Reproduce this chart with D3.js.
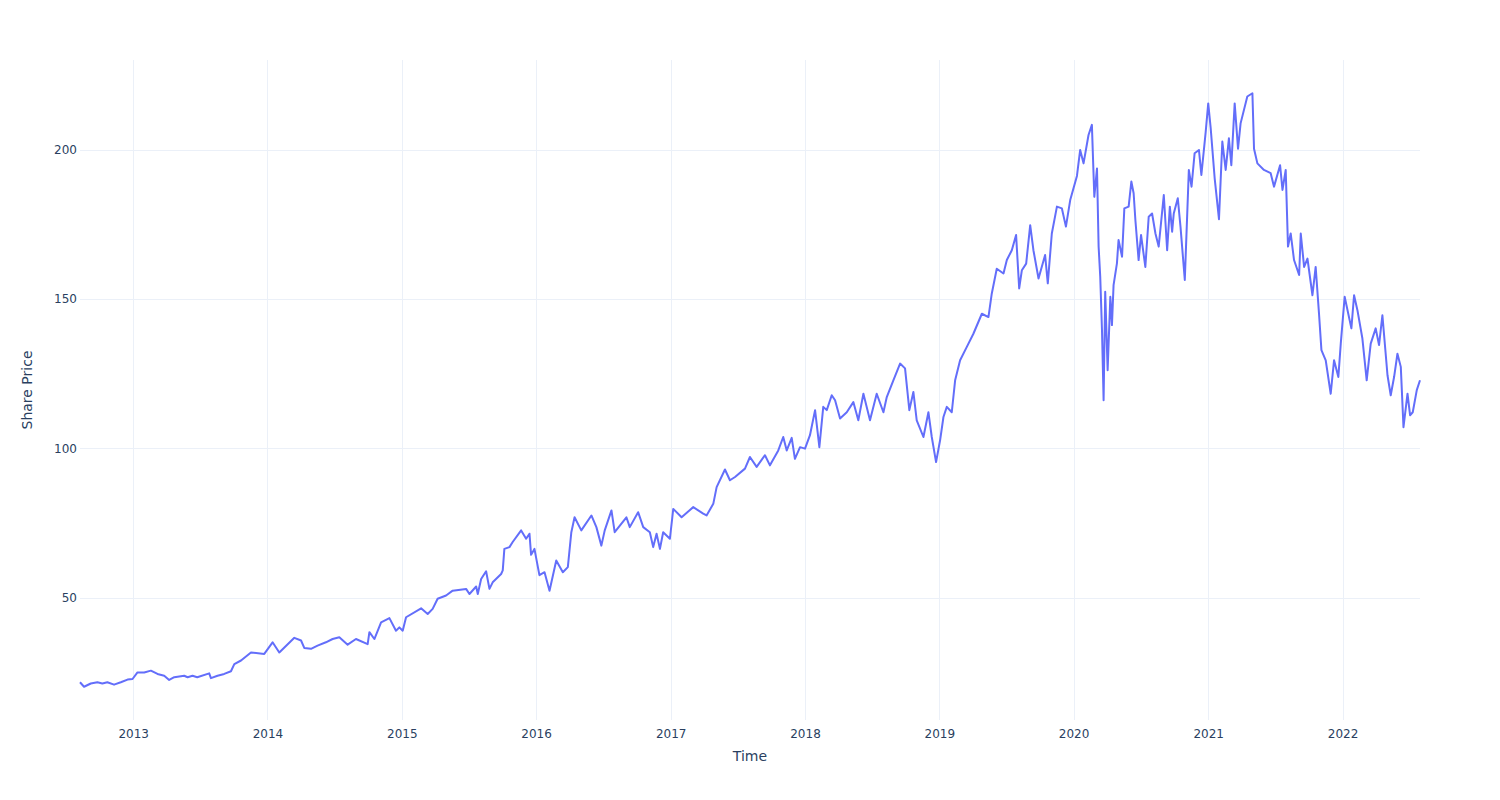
<!DOCTYPE html>
<html lang="en">
<head>
  <meta charset="UTF-8">
  <title>Share Price</title>
  <style>
    body { margin: 0; background: #fff; font-family: "DejaVu Sans", verdana, arial, sans-serif; }
    .grid line { stroke: #ebf0f8; stroke-width: 1px; shape-rendering: crispEdges; }
    .grid path { display: none; }
    .axis path, .axis line { display: none; }
    .axis text { fill: #2a3f5f; font-size: 12px; font-family: "DejaVu Sans", verdana, arial, sans-serif; }
    .title { fill: #2a3f5f; font-size: 14px; font-family: "DejaVu Sans", verdana, arial, sans-serif; }
    .line { fill: none; stroke: #636efa; stroke-width: 2px; stroke-linejoin: round; }
  </style>
</head>
<body>
<script src="https://cdnjs.cloudflare.com/ajax/libs/d3/7.8.5/d3.min.js"></script>
<script>
// time as fractional year
var times = [
  2012.605, 2012.635, 2012.685, 2012.734, 2012.771, 2012.808, 2012.858, 2012.908, 2012.958, 2012.995,
  2013.032, 2013.082, 2013.132, 2013.181, 2013.231, 2013.268, 2013.306, 2013.380, 2013.405, 2013.442,
  2013.477, 2013.566, 2013.579, 2013.628, 2013.678, 2013.728, 2013.753, 2013.803, 2013.877, 2013.976,
  2014.038, 2014.088, 2014.200, 2014.250, 2014.274, 2014.324, 2014.373, 2014.435, 2014.485, 2014.535,
  2014.597, 2014.659, 2014.746, 2014.759, 2014.796, 2014.846, 2014.908, 2014.957, 2014.982, 2015.007,
  2015.032, 2015.144, 2015.193, 2015.230, 2015.267, 2015.330, 2015.379, 2015.479, 2015.504, 2015.554,
  2015.566, 2015.591, 2015.628, 2015.653, 2015.677, 2015.740, 2015.752, 2015.764, 2015.802, 2015.826,
  2015.889, 2015.926, 2015.951, 2015.963, 2015.988, 2016.025, 2016.063, 2016.100, 2016.150, 2016.199,
  2016.236, 2016.262, 2016.286, 2016.336, 2016.411, 2016.448, 2016.485, 2016.510, 2016.560, 2016.584,
  2016.671, 2016.696, 2016.758, 2016.796, 2016.845, 2016.870, 2016.895, 2016.920, 2016.944, 2016.994,
  2017.019, 2017.081, 2017.168, 2017.242, 2017.267, 2017.317, 2017.342, 2017.404, 2017.441, 2017.479,
  2017.553, 2017.590, 2017.640, 2017.702, 2017.739, 2017.801, 2017.838, 2017.864, 2017.901, 2017.925,
  2017.963, 2018.000, 2018.037, 2018.075, 2018.107, 2018.136, 2018.162, 2018.199, 2018.224, 2018.261,
  2018.311, 2018.360, 2018.397, 2018.435, 2018.484, 2018.534, 2018.584, 2018.609, 2018.658, 2018.708,
  2018.745, 2018.777, 2018.807, 2018.832, 2018.882, 2018.919, 2018.944, 2018.976, 2019.006, 2019.031,
  2019.056, 2019.093, 2019.118, 2019.155, 2019.205, 2019.254, 2019.317, 2019.366, 2019.391, 2019.428,
  2019.478, 2019.503, 2019.540, 2019.572, 2019.595, 2019.615, 2019.647, 2019.677, 2019.701, 2019.739,
  2019.788, 2019.808, 2019.838, 2019.876, 2019.913, 2019.943, 2019.975, 2020.025, 2020.049, 2020.074,
  2020.111, 2020.136, 2020.154, 2020.174, 2020.186, 2020.198, 2020.211, 2020.223, 2020.235, 2020.253,
  2020.273, 2020.285, 2020.297, 2020.322, 2020.334, 2020.360, 2020.377, 2020.409, 2020.429, 2020.446,
  2020.459, 2020.483, 2020.501, 2020.533, 2020.558, 2020.583, 2020.608, 2020.632, 2020.670, 2020.695,
  2020.715, 2020.732, 2020.744, 2020.774, 2020.794, 2020.826, 2020.856, 2020.876, 2020.899, 2020.931,
  2020.949, 2020.981, 2021.000, 2021.018, 2021.048, 2021.080, 2021.105, 2021.130, 2021.154, 2021.172,
  2021.197, 2021.222, 2021.241, 2021.291, 2021.329, 2021.341, 2021.366, 2021.415, 2021.465, 2021.490,
  2021.535, 2021.553, 2021.577, 2021.594, 2021.614, 2021.639, 2021.677, 2021.689, 2021.714, 2021.739,
  2021.776, 2021.800, 2021.825, 2021.843, 2021.875, 2021.912, 2021.937, 2021.969, 2021.987, 2022.016,
  2022.066, 2022.086, 2022.111, 2022.148, 2022.180, 2022.210, 2022.247, 2022.272, 2022.297, 2022.335,
  2022.359, 2022.384, 2022.409, 2022.434, 2022.454, 2022.484, 2022.503, 2022.523, 2022.553, 2022.577
];

var prices = [
  21.6, 20.1, 21.2, 21.6, 21.2, 21.6, 20.8, 21.6, 22.5, 22.7,
  24.9, 24.9, 25.5, 24.4, 23.8, 22.4, 23.3, 23.8, 23.3, 23.8,
  23.3, 24.6, 23.0, 23.8, 24.4, 25.3, 27.7, 28.9, 31.6, 31.1,
  35.0, 31.6, 36.5, 35.6, 33.1, 32.8, 33.9, 35.0, 36.1, 36.7,
  34.2, 36.1, 34.4, 38.4, 36.1, 41.7, 43.1, 38.9, 40.0, 38.9,
  43.4, 46.4, 44.5, 46.2, 49.6, 50.7, 52.3, 52.9, 51.2, 53.7,
  51.2, 56.2, 58.8, 52.9, 55.1, 57.9, 59.1, 66.3, 66.9, 68.6,
  72.5, 69.7, 71.4, 64.3, 66.3, 57.5, 58.5, 52.3, 62.4, 58.5,
  60.2, 71.9, 76.9, 72.5, 77.5, 73.6, 67.4, 72.5, 79.2, 71.9,
  76.9, 73.6, 78.6, 73.6, 71.9, 66.9, 71.4, 66.3, 71.9, 69.7,
  79.7, 76.9, 80.3, 78.1, 77.5, 81.4, 87.0, 92.9, 89.3, 90.4,
  93.2, 97.1, 93.8, 97.7, 94.3, 99.3, 103.8, 99.3, 103.5, 96.5,
  100.4, 99.9, 104.4, 112.8, 100.4, 113.9, 112.8, 117.8, 116.1, 110.0,
  112.1, 115.5, 109.4, 118.3, 109.4, 118.3, 112.1, 117.2, 122.8, 128.4,
  126.8, 112.8, 118.9, 109.4, 103.8, 112.1, 103.8, 95.4, 102.7, 110.5,
  113.9, 112.1, 122.8, 129.5, 134.0, 138.4, 145.1, 144.0, 151.9, 160.2,
  158.6, 163.1, 166.4, 171.5, 153.6, 159.7, 161.9, 174.8, 166.4, 156.9,
  164.8, 155.3, 172.0, 181.0, 180.4, 174.3, 183.2, 191.3, 200.0, 195.5,
  205.0, 208.4, 184.3, 193.8, 167.6, 157.5, 139.6, 116.1, 152.5, 126.2,
  150.8, 141.3, 154.7, 162.0, 169.8, 164.2, 180.4, 181.0, 189.4, 185.5,
  176.5, 163.1, 171.5, 160.8, 177.6, 178.7, 172.0, 167.6, 184.9, 166.4,
  181.0, 172.6, 178.7, 183.8, 174.3, 156.4, 193.3, 187.7, 198.9, 200.0,
  191.6, 206.0, 215.6, 207.5, 190.5, 176.8, 202.8, 193.3, 203.9, 194.9,
  215.6, 200.4, 208.9, 217.9, 219.0, 200.4, 195.5, 193.3, 192.2, 187.7,
  194.9, 186.6, 193.3, 167.6, 172.0, 163.1, 158.1, 172.0, 160.8, 163.6,
  151.3, 160.8, 145.1, 132.9, 129.5, 118.3, 129.5, 123.9, 135.1, 150.8,
  140.2, 151.3, 146.3, 136.8, 122.8, 135.1, 140.2, 134.6, 144.6, 124.5,
  117.8, 123.9, 131.7, 127.3, 107.1, 118.3, 111.1, 112.1, 119.5, 122.8
];

var yTicks = [50, 100, 150, 200];
var xTitle = "Time", yTitle = "Share Price";

function toDate(y) {
  var yr = Math.floor(y);
  var a = new Date(yr, 0, 1), b = new Date(yr + 1, 0, 1);
  return new Date(+a + (y - yr) * (b - a));
}

var data = times.map(function (t, i) { return {date: toDate(t), value: prices[i]}; });

var width = 1500, height = 800;
var margin = {top: 60, right: 80, bottom: 80, left: 80};
var innerW = width - margin.left - margin.right,
    innerH = height - margin.top - margin.bottom;

var x = d3.scaleTime()
    .domain(d3.extent(data, function (d) { return d.date; }))
    .range([0, innerW]);

var ext = d3.extent(prices), pad = (ext[1] - ext[0]) * 0.056;
var y = d3.scaleLinear()
    .domain([ext[0] - pad, ext[1] + pad])
    .range([innerH, 0]);

var svg = d3.select("body").append("svg")
    .attr("width", width)
    .attr("height", height);

var g = svg.append("g")
    .attr("transform", "translate(" + margin.left + "," + margin.top + ")");

// grid
g.append("g").attr("class", "grid")
    .call(d3.axisBottom(x).ticks(d3.timeYear.every(1)).tickSize(innerH).tickFormat(""));
g.append("g").attr("class", "grid")
    .call(d3.axisLeft(y).tickValues(yTicks).tickSize(-innerW).tickFormat(""));

// axes
g.append("g").attr("class", "axis")
    .attr("transform", "translate(0," + innerH + ")")
    .call(d3.axisBottom(x).ticks(d3.timeYear.every(1)).tickFormat(d3.timeFormat("%Y")).tickSize(0).tickPadding(9));
g.append("g").attr("class", "axis")
    .call(d3.axisLeft(y).tickValues(yTicks).tickSize(0).tickPadding(3));

var line = d3.line()
    .x(function (d) { return x(d.date); })
    .y(function (d) { return y(d.value); });

g.append("path")
    .datum(data)
    .attr("class", "line")
    .attr("d", line);

svg.append("text").attr("class", "title")
    .attr("x", margin.left + innerW / 2).attr("y", 761)
    .attr("text-anchor", "middle")
    .text(xTitle);

svg.append("text").attr("class", "title")
    .attr("transform", "translate(32," + (margin.top + innerH / 2) + ") rotate(-90)")
    .attr("text-anchor", "middle")
    .text(yTitle);
</script>
</body>
</html>
